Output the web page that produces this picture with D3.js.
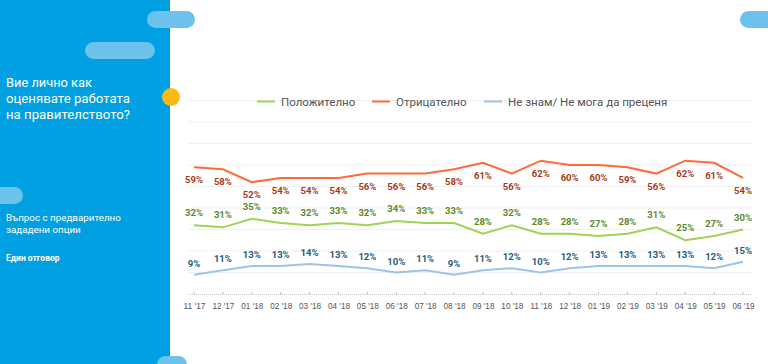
<!DOCTYPE html>
<html>
<head>
<meta charset="utf-8">
<script src="https://cdn.jsdelivr.net/npm/d3@7"></script>
<style>
html,body{margin:0;padding:0;background:#fff;}
svg{display:block;}
</style>
</head>
<body>
<svg id="chart" width="768" height="364"></svg>
<script>
const months = ["11 '17","12 '17","01 '18","02 '18","03 '18","04 '18","05 '18","06 '18","07 '18","08 '18","09 '18","10 '18","11 '18","12 '18","01 '19","02 '19","03 '19","04 '19","05 '19","06 '19"];
const positive = [32,31,35,33,32,33,32,34,33,33,28,32,28,28,27,28,31,25,27,30];
const negative = [59,58,52,54,54,54,56,56,56,58,61,56,62,60,60,59,56,62,61,54];
const dontKnow = [9,11,13,13,14,13,12,10,11,9,11,12,10,12,13,13,13,13,12,15];
const seriesNames = ["Положително","Отрицателно","Не знам/ Не мога да преценя"];
const gridValues = [10,20,30,40,50,60,70,80,90];

const svg = d3.select("#chart");
const W = 768, H = 364;

// left panel
svg.append("rect").attr("x",0).attr("y",0).attr("width",170).attr("height",H).attr("fill","#00A0E2");
const pills = [[147,11,48],[85,42,70],[-20,187,43],[740,11,40],[157,356,30]];
pills.forEach(p=>{
  svg.append("rect").attr("x",p[0]).attr("y",p[1]).attr("width",p[2]).attr("height",17)
    .attr("rx",8.5).attr("fill","#6CC2EA");
});

const title = ["Вие лично как","оценявате работата","на правителството?"];
const titleLen = [86,124,124];
svg.append("g").selectAll("text").data(title).join("text")
  .attr("font-family","Roboto").attr("font-size",13.6).attr("fill","#fff")
  .attr("x",6).attr("y",(d,i)=>87+i*16)
  .attr("textLength",(d,i)=>titleLen[i]).attr("lengthAdjust","spacingAndGlyphs")
  .text(d=>d);
svg.append("text").attr("font-family","Roboto").attr("font-size",9.8).attr("fill","#fff")
  .selectAll("tspan").data(["Въпрос с предварително","зададени опции"]).join("tspan")
  .attr("x",6).attr("y",(d,i)=>221+i*12).text(d=>d);
svg.append("text").attr("x",6).attr("y",261).attr("font-family","Roboto").attr("font-weight","bold")
  .attr("font-size",8.5).attr("fill","#fff").text("Един отговор");

// scales
const x = d3.scalePoint().domain(months).range([194,743]);
const y = d3.scaleLinear().domain([0,90]).range([294,100.5]);

// grid
svg.append("g").selectAll("line").data(gridValues).join("line")
  .attr("x1",188).attr("x2",752).attr("y1",d=>y(d)).attr("y2",d=>y(d))
  .attr("stroke","#f0f0f0").attr("stroke-width",1);

// x axis
const axis = d3.axisBottom(x).tickSize(0).tickPadding(8);
const gx = svg.append("g").attr("transform",`translate(0,${y(0)})`).call(axis);
gx.select(".domain").remove();
gx.selectAll("text").attr("font-family","Liberation Sans, Arial").attr("font-size",9.5).attr("fill","#555")
  .attr("textLength",22).attr("lengthAdjust","spacingAndGlyphs");
svg.append("line").attr("x1",188).attr("x2",752).attr("y1",y(0)+0.5).attr("y2",y(0)+0.5)
  .attr("stroke","#c8c8c8").attr("stroke-dasharray","1,1");
svg.append("g").selectAll("line").data(months).join("line")
  .attr("x1",d=>x(d)).attr("x2",d=>x(d)).attr("y1",y(0)-2).attr("y2",y(0)+0.5)
  .attr("stroke","#bbb");

// yellow dot
svg.append("circle").attr("cx",171).attr("cy",97).attr("r",9).attr("fill","#FDB913");

const series = [
  {name:seriesNames[0], vals:positive, line:"#9FD356", label:"#5C8A2A", dy:-9},
  {name:seriesNames[1], vals:negative, line:"#FF6A3D", label:"#A83A17", dy:16},
  {name:seriesNames[2], vals:dontKnow, line:"#9CC3E8", label:"#1F5C7C", dy:-8}
];
const lineGen = d3.line().x((d,i)=>x(months[i])).y(d=>y(d));
series.forEach(s=>{
  svg.append("path").datum(s.vals).attr("d",lineGen).attr("fill","none")
    .attr("stroke",s.line).attr("stroke-width",2);
  svg.append("g").selectAll("text").data(s.vals).join("text")
    .attr("x",(d,i)=>x(months[i])).attr("y",d=>y(d)+s.dy)
    .attr("text-anchor","middle").attr("font-family","Roboto").attr("font-weight","bold")
    .attr("font-size",9.5).attr("fill",s.label).text(d=>d+"%");
});

// legend
const legendX = [257,372,484];
series.forEach((s,i)=>{
  svg.append("line").attr("x1",legendX[i]).attr("x2",legendX[i]+18).attr("y1",101.5).attr("y2",101.5)
    .attr("stroke",s.line).attr("stroke-width",2);
  svg.append("text").attr("x",legendX[i]+24).attr("y",105.5).attr("font-family","Roboto")
    .attr("font-size",11.5).attr("fill","#555").text(s.name);
});
</script>
</body>
</html>
